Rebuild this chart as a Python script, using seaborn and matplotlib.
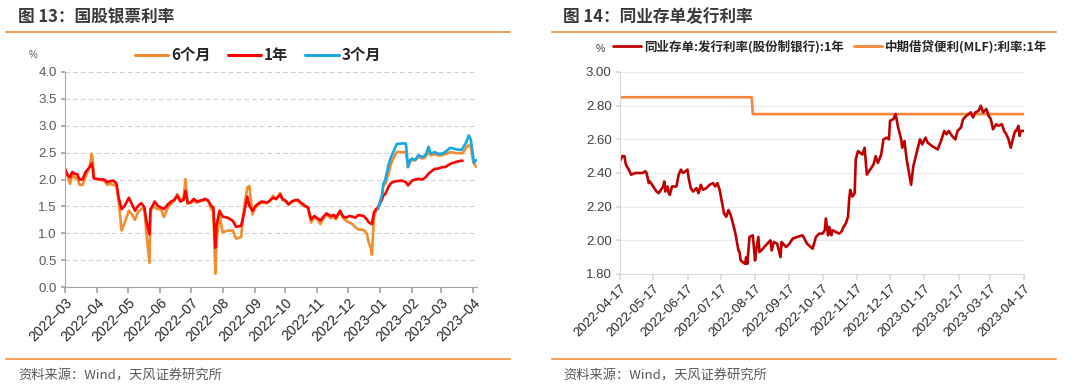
import pandas as pd
import matplotlib.pyplot as plt
import matplotlib.dates as mdates
from matplotlib.lines import Line2D
from matplotlib.ticker import FormatStrFormatter
import seaborn as sns

# fig 13: bill rates (6M / 1Y share dates, 3M starts end-2022)
bill_dates = [
    '2022-03-01', '2022-03-03', '2022-03-06', '2022-03-08', '2022-03-11', '2022-03-13', '2022-03-15',
    '2022-03-18', '2022-03-21', '2022-03-25', '2022-03-27', '2022-03-28', '2022-03-29',
    '2022-04-01', '2022-04-04', '2022-04-08', '2022-04-11', '2022-04-14', '2022-04-17', '2022-04-20',
    '2022-04-22', '2022-04-25', '2022-04-28',
    '2022-05-02', '2022-05-05', '2022-05-08', '2022-05-11', '2022-05-14', '2022-05-17', '2022-05-19',
    '2022-05-22', '2022-05-23', '2022-05-25', '2022-05-27', '2022-05-30',
    '2022-06-02', '2022-06-05', '2022-06-09', '2022-06-12', '2022-06-15', '2022-06-18', '2022-06-21',
    '2022-06-24', '2022-06-26', '2022-06-28',
    '2022-07-01', '2022-07-04', '2022-07-07', '2022-07-11', '2022-07-15', '2022-07-18', '2022-07-21',
    '2022-07-23', '2022-07-25', '2022-07-26', '2022-07-29',
    '2022-08-01', '2022-08-06', '2022-08-11', '2022-08-14', '2022-08-19', '2022-08-22', '2022-08-25',
    '2022-08-27', '2022-08-30',
    '2022-09-02', '2022-09-06', '2022-09-08', '2022-09-13', '2022-09-16', '2022-09-19', '2022-09-22',
    '2022-09-26', '2022-09-28',
    '2022-10-01', '2022-10-04', '2022-10-07', '2022-10-10', '2022-10-13', '2022-10-16', '2022-10-20',
    '2022-10-23', '2022-10-24', '2022-10-26', '2022-10-29',
    '2022-11-01', '2022-11-04', '2022-11-07', '2022-11-10', '2022-11-14', '2022-11-17', '2022-11-19',
    '2022-11-23', '2022-11-26', '2022-11-29',
    '2022-12-02', '2022-12-05', '2022-12-08', '2022-12-11', '2022-12-16', '2022-12-19', '2022-12-21',
    '2022-12-23', '2022-12-24', '2022-12-26', '2022-12-28', '2022-12-30',
    '2023-01-03', '2023-01-04', '2023-01-06', '2023-01-09', '2023-01-11', '2023-01-13', '2023-01-17',
    '2023-01-22', '2023-01-26', '2023-01-28', '2023-01-30',
    '2023-02-01', '2023-02-04', '2023-02-07', '2023-02-11', '2023-02-14', '2023-02-17', '2023-02-19',
    '2023-02-23', '2023-02-26',
    '2023-03-02', '2023-03-05', '2023-03-10', '2023-03-16', '2023-03-21', '2023-03-22', '2023-03-25',
    '2023-03-28', '2023-03-30',
    '2023-04-01', '2023-04-02', '2023-04-04',
]
bill_6m = [
    2.20, 2.08, 1.92, 2.10, 2.02, 2.05, 1.90, 1.90, 2.05, 2.25, 2.48, 2.35, 2.04,
    2.01, 2.00, 1.98, 1.90, 1.92, 1.90, 1.88, 1.60, 1.05, 1.20,
    1.42, 1.35, 1.25, 1.40, 1.45, 1.47, 1.00, 0.45, 1.40, 1.50, 1.48, 1.45,
    1.45, 1.30, 1.48, 1.55, 1.60, 1.73, 1.62, 1.63, 2.01, 1.55,
    1.57, 1.60, 1.57, 1.60, 1.62, 1.60, 1.45, 1.40, 0.25, 0.80, 1.35,
    1.02, 1.05, 1.05, 0.90, 0.93, 1.50, 1.85, 1.88, 1.35,
    1.48, 1.55, 1.57, 1.56, 1.60, 1.70, 1.63, 1.75, 1.62,
    1.60, 1.53, 1.58, 1.62, 1.60, 1.55, 1.50, 1.47, 1.36, 1.20, 1.30,
    1.26, 1.17, 1.28, 1.35, 1.28, 1.30, 1.26, 1.40, 1.28, 1.23,
    1.20, 1.17, 1.11, 1.07, 1.06, 1.00, 0.82, 0.72, 0.60, 1.30, 1.42, 1.48,
    1.70, 1.89, 1.92, 2.10, 2.26, 2.36, 2.51, 2.51, 2.51, 2.23, 2.33,
    2.36, 2.36, 2.42, 2.39, 2.42, 2.51, 2.45, 2.47, 2.45,
    2.45, 2.47, 2.51, 2.49, 2.49, 2.49, 2.58, 2.64, 2.61,
    2.36, 2.30, 2.24,
]
bill_1y = [
    2.20, 2.10, 2.04, 2.14, 2.10, 2.10, 2.00, 2.00, 2.14, 2.23, 2.30, 2.20, 2.02,
    2.01, 2.00, 2.00, 1.95, 1.97, 1.98, 1.92, 1.67, 1.45, 1.51,
    1.66, 1.54, 1.42, 1.51, 1.56, 1.48, 1.23, 0.98, 1.45, 1.51, 1.59, 1.51,
    1.48, 1.45, 1.54, 1.59, 1.62, 1.70, 1.59, 1.62, 1.79, 1.57,
    1.57, 1.64, 1.59, 1.61, 1.64, 1.61, 1.51, 1.48, 0.73, 1.14, 1.42,
    1.31, 1.29, 1.23, 1.12, 1.14, 1.39, 1.68, 1.51, 1.42,
    1.51, 1.57, 1.59, 1.57, 1.61, 1.66, 1.64, 1.72, 1.64,
    1.61, 1.54, 1.59, 1.61, 1.62, 1.57, 1.51, 1.48, 1.39, 1.26, 1.32,
    1.28, 1.24, 1.31, 1.37, 1.32, 1.34, 1.29, 1.42, 1.31, 1.29,
    1.32, 1.31, 1.29, 1.34, 1.32, 1.26, 1.20, 1.18, 1.17, 1.39, 1.45, 1.48,
    1.64, 1.70, 1.73, 1.86, 1.92, 1.95, 1.97, 1.98, 1.95, 1.89, 1.93,
    1.98, 2.00, 2.01, 2.00, 2.04, 2.11, 2.14, 2.20, 2.20,
    2.23, 2.23, 2.29, 2.33, 2.35, 2.35, None, None, None,
    None, None, None,
]
bill_3m_dates = [
    '2022-12-30',
    '2023-01-03', '2023-01-04', '2023-01-06', '2023-01-09', '2023-01-11', '2023-01-13', '2023-01-17',
    '2023-01-22', '2023-01-26', '2023-01-28', '2023-01-30',
    '2023-02-01', '2023-02-04', '2023-02-07', '2023-02-11', '2023-02-14', '2023-02-17', '2023-02-19',
    '2023-02-23', '2023-02-26',
    '2023-03-02', '2023-03-05', '2023-03-10', '2023-03-16', '2023-03-21', '2023-03-22', '2023-03-25',
    '2023-03-28', '2023-03-30',
    '2023-04-01', '2023-04-02', '2023-04-04',
]
bill_3m = [
    1.45,
    1.73, 1.92, 2.00, 2.26, 2.39, 2.48, 2.66, 2.67, 2.67, 2.23, 2.36,
    2.39, 2.36, 2.45, 2.42, 2.45, 2.61, 2.48, 2.51, 2.48,
    2.48, 2.51, 2.59, 2.56, 2.55, 2.58, 2.67, 2.82, 2.74,
    2.46, 2.31, 2.36,
]

# fig 14: NCD issue rate vs MLF
ncd_dates = [
    '2022-04-17', '2022-04-19', '2022-04-21', '2022-04-22', '2022-04-23', '2022-04-25', '2022-04-27',
    '2022-05-01', '2022-05-07', '2022-05-10', '2022-05-11', '2022-05-13', '2022-05-14', '2022-05-17',
    '2022-05-20', '2022-05-22', '2022-05-24', '2022-05-26', '2022-05-27', '2022-05-28', '2022-05-30',
    '2022-05-31',
    '2022-06-01', '2022-06-03', '2022-06-07', '2022-06-09', '2022-06-11', '2022-06-13', '2022-06-15',
    '2022-06-17', '2022-06-18', '2022-06-20', '2022-06-22', '2022-06-25', '2022-06-27', '2022-06-29',
    '2022-07-01', '2022-07-04', '2022-07-07', '2022-07-10', '2022-07-12', '2022-07-14', '2022-07-16',
    '2022-07-18', '2022-07-20', '2022-07-22', '2022-07-24', '2022-07-26', '2022-07-28', '2022-07-30',
    '2022-08-02', '2022-08-03', '2022-08-04', '2022-08-06', '2022-08-08', '2022-08-09', '2022-08-10',
    '2022-08-12', '2022-08-15', '2022-08-17', '2022-08-18', '2022-08-20', '2022-08-21', '2022-08-24',
    '2022-08-28', '2022-08-31',
    '2022-09-01', '2022-09-03', '2022-09-06', '2022-09-09', '2022-09-10', '2022-09-14', '2022-09-17',
    '2022-09-20', '2022-09-24', '2022-09-29',
    '2022-10-03', '2022-10-08', '2022-10-11', '2022-10-14', '2022-10-17', '2022-10-19', '2022-10-20',
    '2022-10-22', '2022-10-23', '2022-10-25', '2022-10-26', '2022-10-29',
    '2022-11-01', '2022-11-03', '2022-11-05', '2022-11-07', '2022-11-09', '2022-11-10', '2022-11-11',
    '2022-11-13', '2022-11-15', '2022-11-16', '2022-11-18', '2022-11-20', '2022-11-22', '2022-11-24',
    '2022-11-26', '2022-11-29',
    '2022-12-02', '2022-12-04', '2022-12-06', '2022-12-09', '2022-12-11', '2022-12-14', '2022-12-16',
    '2022-12-17', '2022-12-20', '2022-12-22', '2022-12-24', '2022-12-27', '2022-12-28', '2022-12-30',
    '2023-01-01', '2023-01-05', '2023-01-07', '2023-01-10', '2023-01-13', '2023-01-15', '2023-01-18',
    '2023-01-20', '2023-01-24', '2023-01-29',
    '2023-02-01', '2023-02-04', '2023-02-06', '2023-02-08', '2023-02-11', '2023-02-14', '2023-02-16',
    '2023-02-19', '2023-02-21', '2023-02-24', '2023-02-28',
    '2023-03-02', '2023-03-04', '2023-03-07', '2023-03-09', '2023-03-11', '2023-03-14', '2023-03-16',
    '2023-03-18', '2023-03-20', '2023-03-23', '2023-03-25', '2023-03-28', '2023-03-30',
    '2023-04-01', '2023-04-03', '2023-04-05', '2023-04-08', '2023-04-09', '2023-04-10', '2023-04-12',
    '2023-04-13', '2023-04-14', '2023-04-17',
]
ncd_rate = [
    2.47, 2.50, 2.50, 2.46, 2.44, 2.42, 2.39,
    2.40, 2.40, 2.41, 2.40, 2.34, 2.35, 2.32, 2.29, 2.28, 2.30, 2.32, 2.35, 2.29, 2.32, 2.28,
    2.27, 2.32, 2.32, 2.39, 2.42, 2.40, 2.41, 2.42, 2.37, 2.31, 2.29, 2.31, 2.28, 2.33,
    2.30, 2.31, 2.33, 2.34, 2.32, 2.34, 2.30, 2.23, 2.16, 2.14, 2.18, 2.15, 2.10, 2.05,
    1.94, 1.93, 1.88, 1.87, 1.86, 1.90, 1.86, 2.02, 2.03, 1.88, 1.94, 2.02, 1.93, 1.95, 1.98, 2.00,
    1.94, 1.99, 1.98, 1.90, 1.99, 1.96, 1.98, 2.01, 2.02, 2.03,
    1.98, 1.95, 2.02, 2.04, 2.04, 2.06, 2.13, 2.03, 2.08, 2.03, 2.06, 2.05,
    2.04, 2.05, 2.08, 2.10, 2.14, 2.24, 2.30, 2.26, 2.28, 2.48, 2.53, 2.52, 2.51, 2.55, 2.39, 2.42,
    2.45, 2.50, 2.46, 2.51, 2.60, 2.61, 2.60, 2.71, 2.72, 2.75, 2.68, 2.60, 2.55, 2.59,
    2.48, 2.33, 2.44, 2.52, 2.60, 2.57, 2.61, 2.58, 2.56, 2.54,
    2.59, 2.65, 2.63, 2.65, 2.62, 2.60, 2.65, 2.67, 2.72, 2.74, 2.76,
    2.73, 2.76, 2.77, 2.80, 2.76, 2.78, 2.74, 2.72, 2.66, 2.69, 2.68, 2.69, 2.65,
    2.63, 2.60, 2.55, 2.63, 2.65, 2.65, 2.68, 2.62, 2.65, 2.65,
]
mlf_dates = ['2022-04-17', '2022-08-14', '2022-08-15', '2023-04-17']
mlf_rate = [2.85, 2.85, 2.75, 2.75]

sns.set_theme(style='white')
plt.rcParams['font.family'] = ['Liberation Sans', 'Noto Sans CJK SC']
cjk = ['Noto Sans CJK SC', 'DejaVu Sans']

W, H = 1080, 384
fig = plt.figure(figsize=(10.8, 3.84), dpi=100)

def box(x0, y0, x1, y1):
    return [x0 / W, 1 - y1 / H, (x1 - x0) / W, (y1 - y0) / H]

def frame(x0, x1, title, tx):
    line_c = '#F5A25D'
    fig.add_artist(Line2D([x0 / W, x1 / W], [1 - 32 / H] * 2, color=line_c, lw=1.5))
    fig.add_artist(Line2D([x0 / W, x1 / W], [1 - 359 / H] * 2, color=line_c, lw=1.5))
    fig.text(tx / W, 1 - 17 / H, title, family=cjk, fontsize=12, fontweight='bold',
             color='#3A3A3A', va='center')
    fig.text(tx / W, 1 - 376 / H, '资料来源：Wind，天风证券研究所', family=cjk,
             fontsize=9.5, color='#595959', va='center')

# ---- left panel
frame(6, 510, '图 13：国股银票利率', 18)
ax1 = fig.add_axes(box(65, 72, 477, 287))
df1 = pd.DataFrame({'date': pd.to_datetime(bill_dates), '6个月': bill_6m, '1年': bill_1y})
df3 = pd.DataFrame({'date': pd.to_datetime(bill_3m_dates), '3个月': bill_3m})
long1 = pd.concat([df1.melt(id_vars='date', var_name='term', value_name='rate'),
                   df3.melt(id_vars='date', var_name='term', value_name='rate')])
long1 = long1.dropna()
long1['rate'] = long1['rate'].astype(float)
terms = ['6个月', '1年', '3个月']
left_colors = ['#F28C2E', '#FF0000', '#1AA7E6']
sns.lineplot(data=long1, x='date', y='rate', hue='term', hue_order=terms,
             palette=left_colors, linewidth=1.9, ax=ax1, legend=False)
ax1.set_xlim(pd.Timestamp('2022-03-01'), pd.Timestamp('2023-04-05'))
ax1.set_ylim(0, 4)
ax1.set_yticks([i * 0.5 for i in range(9)])
ax1.yaxis.set_major_formatter(FormatStrFormatter('%.1f'))
ax1.xaxis.set_major_locator(mdates.MonthLocator())
ax1.xaxis.set_major_formatter(mdates.DateFormatter('%Y–%m'))
ax1.yaxis.grid(True, ls=(0, (4, 3)), color='#D0D0D0', lw=0.8)
ax1.xaxis.grid(False)
ax1.set_xlabel('')
ax1.set_ylabel('')
for s in ['top', 'right']:
    ax1.spines[s].set_visible(False)
for s in ['left', 'bottom']:
    ax1.spines[s].set_color('#A6A6A6')
    ax1.spines[s].set_linewidth(0.8)
ax1.tick_params(axis='y', left=True, length=3, color='#A6A6A6', labelsize=9.5,
                labelcolor='#595959', pad=3)
ax1.tick_params(axis='x', bottom=True, length=4, color='#A6A6A6', labelsize=10,
                labelcolor='#262626', pad=2)
for lab in ax1.get_xticklabels():
    lab.set_rotation(45)
    lab.set_ha('right')
    lab.set_rotation_mode('anchor')
fig.text(33 / W, 1 - 55 / H, '%', fontsize=7, color='#595959', ha='center', va='center')
h1 = [Line2D([], [], color=c, lw=2.2) for c in left_colors]
ax1.legend(h1, terms, loc='center', bbox_to_anchor=(258 / W, 1 - 55 / H),
           bbox_transform=fig.transFigure, ncol=3, frameon=False, handlelength=2.2,
           handletextpad=0.2, columnspacing=1.1, prop={'family': cjk, 'size': 11, 'weight': 'bold'})

# ---- right panel
frame(552, 1056, '图 14：同业存单发行利率', 563)
ax2 = fig.add_axes(box(620, 72, 1024, 274))
df_ncd = pd.DataFrame({'date': pd.to_datetime(ncd_dates), 'rate': ncd_rate})
df_mlf = pd.DataFrame({'date': pd.to_datetime(mlf_dates), 'rate': mlf_rate})
sns.lineplot(data=df_mlf, x='date', y='rate', color='#F4873B', linewidth=1.9, ax=ax2)
sns.lineplot(data=df_ncd, x='date', y='rate', color='#C00000', linewidth=1.9, ax=ax2)
ax2.set_xlim(pd.Timestamp('2022-04-17'), pd.Timestamp('2023-04-17'))
ax2.set_ylim(1.8, 3.0)
ax2.set_yticks([1.8 + i * 0.2 for i in range(7)])
ax2.yaxis.set_major_formatter(FormatStrFormatter('%.2f'))
ax2.xaxis.set_major_locator(mdates.MonthLocator(bymonthday=17))
ax2.xaxis.set_major_formatter(mdates.DateFormatter('%Y-%m-%d'))
ax2.yaxis.grid(True, color='#EBEBEB', lw=0.8)
ax2.xaxis.grid(False)
ax2.set_xlabel('')
ax2.set_ylabel('')
for s in ['top', 'right']:
    ax2.spines[s].set_visible(False)
for s in ['left', 'bottom']:
    ax2.spines[s].set_color('#D9D9D9')
    ax2.spines[s].set_linewidth(0.8)
ax2.tick_params(axis='y', left=True, length=3, color='#D9D9D9', labelsize=9.5,
                labelcolor='#404040', pad=3)
ax2.tick_params(axis='x', bottom=True, length=4, color='#D9D9D9', labelsize=9.5,
                labelcolor='#262626', pad=2)
for lab in ax2.get_xticklabels():
    lab.set_rotation(45)
    lab.set_ha('right')
    lab.set_rotation_mode('anchor')
fig.text(600 / W, 1 - 49 / H, '%', fontsize=7.5, color='#404040', ha='center', va='center')
right_labels = ['同业存单:发行利率(股份制银行):1年', '中期借贷便利(MLF):利率:1年']
h2 = [Line2D([], [], color='#C00000', lw=2), Line2D([], [], color='#F4873B', lw=2)]
ax2.legend(h2, right_labels, loc='center', bbox_to_anchor=(830 / W, 1 - 47 / H),
           bbox_transform=fig.transFigure, ncol=2, frameon=False, handlelength=2.3,
           handletextpad=0.2, columnspacing=0.8, prop={'family': cjk, 'size': 9, 'weight': 'bold'})

fig.savefig('out.png', dpi=100)
